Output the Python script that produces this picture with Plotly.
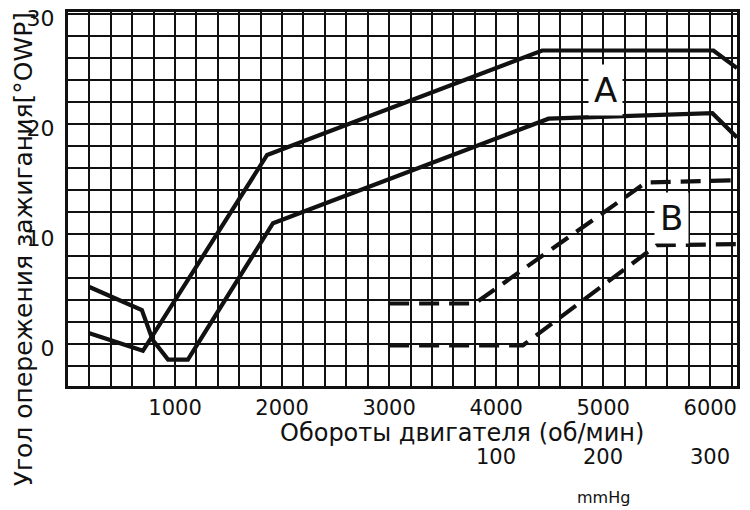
import plotly.graph_objects as go

# curve A (solid): ignition advance vs engine speed
a_upper_rpm = [200, 700, 1860, 4430, 6030, 6250]
a_upper_deg = [1.0, -0.6, 17.2, 26.7, 26.7, 25.1]

a_lower_rpm = [200, 690, 790, 935, 1120, 1915, 4490, 6020, 6250]
a_lower_deg = [5.2, 3.1, 0.4, -1.4, -1.4, 11.0, 20.5, 21.0, 18.8]

# curve B (dashed): vacuum advance
b_upper_rpm = [3000, 3800, 5400, 6250]
b_upper_deg = [3.7, 3.7, 14.7, 14.9]

b_lower_rpm = [3000, 4250, 5500, 6250]
b_lower_deg = [-0.1, -0.1, 9.0, 9.1]

x_grid = list(range(0, 6400, 200))
x_labels = [1000, 2000, 3000, 4000, 5000, 6000]
y_grid = list(range(-2, 32, 2))
y_labels = [0, 10, 20, 30]

vac_labels = ["100", "200", "300"]
vac_pos = [4000, 5000, 6000]

FONT = "DejaVu Sans"
INK = "#111111"

fig = go.Figure()
for xs, ys, dash in [(a_upper_rpm, a_upper_deg, "solid"),
                     (a_lower_rpm, a_lower_deg, "solid"),
                     (b_upper_rpm, b_upper_deg, "20px,10px"),
                     (b_lower_rpm, b_lower_deg, "20px,10px")]:
    fig.add_trace(go.Scatter(x=xs, y=ys, mode="lines",
                             line=dict(color=INK, width=4.2, dash=dash),
                             hoverinfo="skip", showlegend=False))

fig.update_xaxes(range=[0, 6250], tickmode="array", tickvals=x_grid,
                 ticktext=[str(v) if v in x_labels else "" for v in x_grid],
                 showgrid=True, gridcolor=INK, gridwidth=2,
                 showline=True, linecolor=INK, linewidth=3, mirror=True,
                 ticks="", zeroline=False, ticklabelstandoff=1, automargin=False,
                 ticklabeloverflow="allow",
                 tickfont=dict(family=FONT, size=21, color=INK))
fig.update_yaxes(range=[-3.8, 30.2], tickmode="array", tickvals=y_grid,
                 ticktext=[str(v) if v in y_labels else "" for v in y_grid],
                 showgrid=True, gridcolor=INK, gridwidth=2,
                 showline=True, linecolor=INK, linewidth=3, mirror=True,
                 ticks="", zeroline=False, ticklabelstandoff=6, automargin=False,
                 ticklabeloverflow="allow", ticklabelshift=4,
                 tickfont=dict(family=FONT, size=22, color=INK))

# curve labels in white boxes
fig.add_annotation(x=5020, y=23.1, text="A", showarrow=False, bgcolor="white",
                   borderpad=5, font=dict(family=FONT, size=34, color=INK))
fig.add_annotation(x=5640, y=11.5, text="B", showarrow=False, bgcolor="white",
                   borderpad=5, font=dict(family=FONT, size=34, color=INK))

# axis titles
fig.add_annotation(x=-0.066, y=0.365, xref="paper", yref="paper", textangle=-90,
                   text="Угол опережения зажигания[°OWP]", showarrow=False,
                   xanchor="center", yanchor="middle",
                   font=dict(family=FONT, size=25, color=INK))
fig.add_annotation(x=0.589, y=-0.126, xref="paper", yref="paper",
                   text="Обороты двигателя (об/мин)", showarrow=False,
                   xanchor="center", yanchor="middle",
                   font=dict(family=FONT, size=24, color=INK))

# secondary scale: vacuum in mmHg
for pos, lab in zip(vac_pos, vac_labels):
    fig.add_annotation(x=pos, y=-0.19, xref="x", yref="paper", text=lab,
                       showarrow=False, xanchor="center", yanchor="middle",
                       font=dict(family=FONT, size=21, color=INK))
fig.add_annotation(x=5000, y=-0.298, xref="x", yref="paper", text="mmHg",
                   showarrow=False, xanchor="center", yanchor="middle",
                   font=dict(family=FONT, size=16, color=INK))

# page body adds an 8px offset, so the figure is sized to fit inside it
fig.update_layout(width=742, height=502, plot_bgcolor="white",
                  paper_bgcolor="white",
                  margin=dict(l=60, r=13, t=4, b=124, autoexpand=False))

fig.write_html("out.html")
